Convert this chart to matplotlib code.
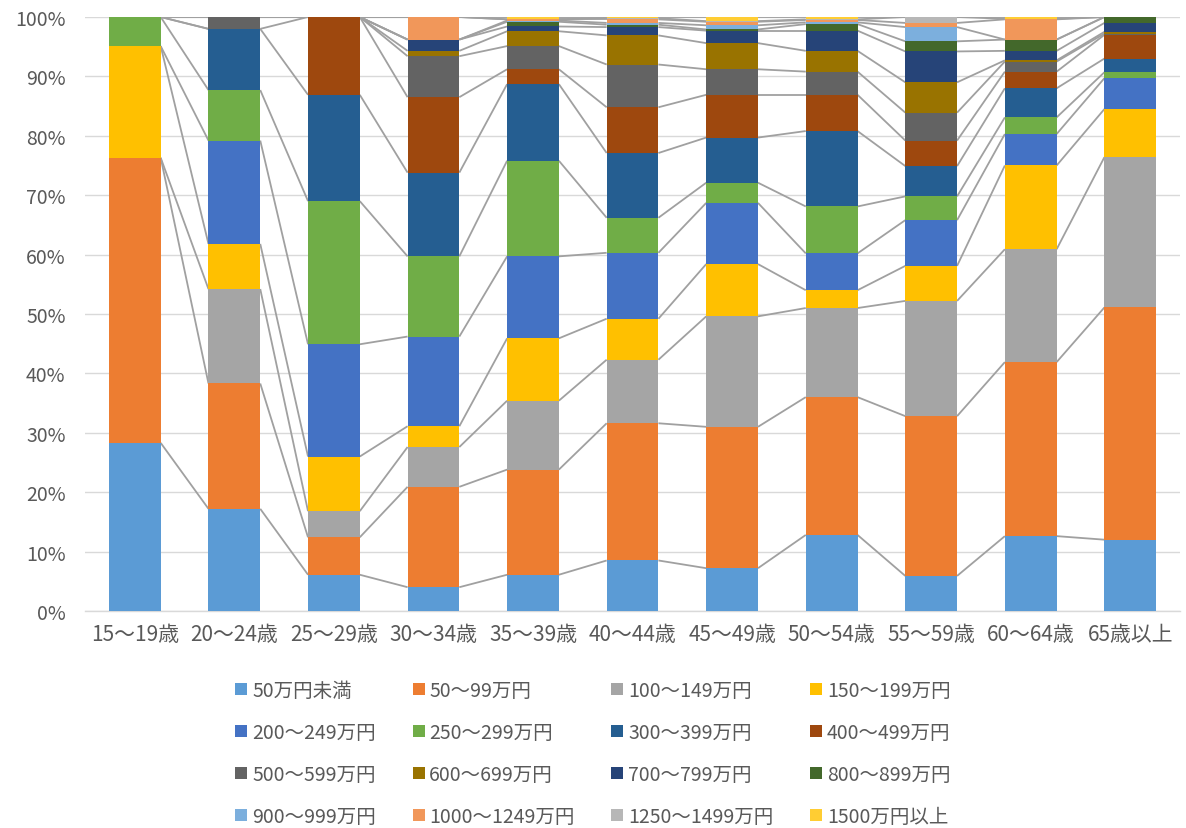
import numpy as np
import matplotlib
matplotlib.use("Agg")
import matplotlib.pyplot as plt
from matplotlib.lines import Line2D

plt.rcParams['font.family'] = ['Noto Sans CJK JP', 'DejaVu Sans']

# Age groups
age_groups = ["15～19歳", "20～24歳", "25～29歳", "30～34歳", "35～39歳", "40～44歳",
              "45～49歳", "50～54歳", "55～59歳", "60～64歳", "65歳以上"]

# Income bracket labels
brackets = ["50万円未満", "50～99万円", "100～149万円", "150～199万円",
            "200～249万円", "250～299万円", "300～399万円", "400～499万円",
            "500～599万円", "600～699万円", "700～799万円", "800～899万円",
            "900～999万円", "1000～1249万円", "1250～1499万円", "1500万円以上"]

# Share (%) of each bracket per age group
inc_under_50 = [28.3, 17.2, 6.1, 4.0, 6.1, 8.5, 7.2, 12.8, 5.9, 12.6, 12.0]
inc_50_99    = [48.0, 21.1, 6.3, 16.9, 17.7, 23.1, 23.8, 23.2, 26.9, 29.3, 39.1]
inc_100_149  = [0.0, 15.9, 4.4, 6.7, 11.6, 10.7, 18.6, 15.0, 19.4, 19.0, 25.3]
inc_150_199  = [18.8, 7.6, 9.2, 3.5, 10.5, 6.9, 8.8, 3.0, 5.9, 14.1, 8.1]
inc_200_249  = [0.0, 17.4, 18.9, 15.1, 13.8, 11.1, 10.3, 6.2, 7.7, 5.3, 5.2]
inc_250_299  = [4.9, 8.5, 24.1, 13.5, 16.1, 5.9, 3.4, 7.9, 4.0, 2.8, 1.0]
inc_300_399  = [0.0, 10.3, 17.9, 14.1, 12.9, 10.9, 7.6, 12.7, 5.1, 4.9, 2.3]
inc_400_499  = [0.0, 0.0, 13.1, 12.7, 2.5, 7.7, 7.2, 6.1, 4.3, 2.8, 4.0]
inc_500_599  = [0.0, 2.0, 0.0, 6.9, 3.9, 7.2, 4.3, 3.9, 4.7, 1.7, 0.2]
inc_600_699  = [0.0, 0.0, 0.0, 0.9, 2.5, 4.9, 4.4, 3.5, 5.1, 0.2, 0.3]
inc_700_799  = [0.0, 0.0, 0.0, 1.9, 0.8, 1.4, 2.1, 3.4, 5.2, 1.6, 1.5]
inc_800_899  = [0.0, 0.0, 0.0, 0.0, 0.8, 0.4, 0.2, 1.1, 1.7, 1.9, 1.0]
inc_900_999  = [0.0, 0.0, 0.0, 0.0, 0.2, 0.3, 0.7, 0.3, 2.4, 0.0, 0.0]
inc_1000_1249 = [0.0, 0.0, 0.0, 3.8, 0.2, 0.6, 0.6, 0.4, 0.7, 3.4, 0.0]
inc_1250_1499 = [0.0, 0.0, 0.0, 0.0, 0.0, 0.2, 0.1, 0.1, 1.0, 0.1, 0.0]
inc_1500_plus = [0.0, 0.0, 0.0, 0.0, 0.4, 0.2, 0.7, 0.4, 0.0, 0.3, 0.0]

colors = ["#5B9BD5", "#ED7D31", "#A5A5A5", "#FFC000", "#4472C4", "#70AD47",
          "#255E91", "#9E480E", "#636363", "#997300", "#264478", "#43682B",
          "#7CAFDD", "#F1975A", "#B7B7B7", "#FFCD33"]

shares = np.array([inc_under_50, inc_50_99, inc_100_149, inc_150_199,
                   inc_200_249, inc_250_299, inc_300_399, inc_400_499,
                   inc_500_599, inc_600_699, inc_700_799, inc_800_899,
                   inc_900_999, inc_1000_1249, inc_1250_1499, inc_1500_plus])
# 100% stacked: normalise each age group
shares = shares / shares.sum(axis=0) * 100.0
tops = np.cumsum(shares, axis=0)
bottoms = tops - shares

fig = plt.figure(figsize=(11.86, 8.29), dpi=100)
ax = fig.add_axes([0.0717, 0.2618, 0.9233, 0.7165])

x = np.arange(len(age_groups))
bar_w = 0.52
text_col = "#595959"
grid_col = "#D9D9D9"

for k in range(len(brackets)):
    ax.bar(x, shares[k], bottom=bottoms[k], width=bar_w, color=colors[k],
           linewidth=0, zorder=3)

# Series lines joining the top of each segment between neighbouring bars
for k in range(len(brackets)):
    for i in range(len(x) - 1):
        ax.plot([x[i] + bar_w / 2, x[i + 1] - bar_w / 2],
                [tops[k][i], tops[k][i + 1]],
                color="#A0A0A0", linewidth=1.3, zorder=2,
                solid_capstyle="butt")

ax.set_xlim(-0.5, len(x) - 0.5)
ax.set_ylim(0, 100)
ax.set_yticks(np.arange(0, 101, 10))
ax.set_yticklabels([f"{v}%" for v in range(0, 101, 10)])
ax.set_xticks(x)
ax.set_xticklabels(age_groups)
ax.tick_params(axis="y", length=0, pad=14, labelsize=14, labelcolor=text_col)
ax.tick_params(axis="x", length=0, pad=9, labelsize=15, labelcolor=text_col)
ax.yaxis.grid(True, color=grid_col, linewidth=1.0, zorder=0)
ax.set_axisbelow(True)
for side in ("top", "right", "left"):
    ax.spines[side].set_visible(False)
ax.spines["bottom"].set_color(grid_col)
ax.spines["bottom"].set_linewidth(1.0)

# Legend laid out row by row, four entries per row
ncol = 4
nrow = int(np.ceil(len(brackets) / ncol))
order = [r * ncol + c for c in range(ncol) for r in range(nrow)]
handles = [Line2D([], [], marker="s", linestyle="none", markersize=8.5,
                  markerfacecolor=colors[k], markeredgewidth=0)
           for k in order]
labels = [brackets[k] for k in order]
fig.legend(handles, labels, ncol=ncol, loc="upper center",
           bbox_to_anchor=(0.500, 0.1907), frameon=False,
           fontsize=14, labelcolor=text_col, handlelength=0.6,
           handletextpad=0.25, columnspacing=1.9, labelspacing=1.08,
           borderpad=0.0)

fig.savefig("out.png", dpi=100)
